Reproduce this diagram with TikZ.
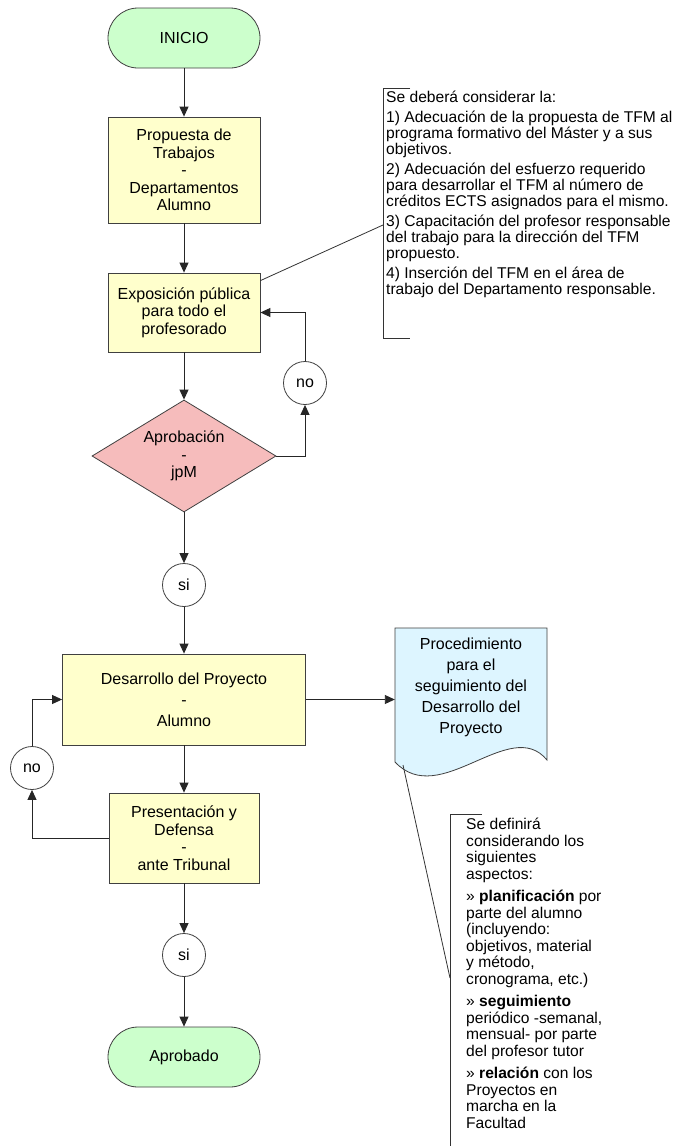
\documentclass[tikz,border=0pt]{standalone}
\usepackage{fontspec}
\setmainfont{Liberation Sans}
\usetikzlibrary{shapes.geometric,arrows.meta,calc}
\definecolor{termfill}{RGB}{204,255,204}
\definecolor{boxfill}{RGB}{255,255,204}
\definecolor{decfill}{RGB}{246,188,188}
\definecolor{docfill}{RGB}{221,245,255}
\definecolor{edgecol}{RGB}{64,64,64}
\newcommand{\boxfs}{\fontsize{16}{17.5}\selectfont}
\newcommand{\annfs}{\fontsize{15.6}{16}\selectfont}
\newcommand{\anntwofs}{\fontsize{15.6}{16.5}\selectfont}
\begin{document}
\begin{tikzpicture}[x=1pt,y=-1pt,
  term/.style={draw=edgecol, fill=termfill, line width=0.8pt, rounded corners=30pt, minimum width=152pt, minimum height=60pt, inner sep=0pt, font=\boxfs},
  proc/.style={draw=edgecol, fill=boxfill, line width=0.8pt, align=center, inner sep=0pt, font=\boxfs},
  decis/.style={diamond, draw=edgecol, fill=decfill, line width=0.8pt, aspect=1.64, inner sep=0pt, minimum width=184pt, minimum height=112pt, align=center, font=\boxfs},
  conn/.style={circle, draw=edgecol, fill=white, line width=0.8pt, minimum size=43pt, inner sep=0pt, font=\boxfs},
  arr/.style={draw=black!85, line width=0.9pt, -{Triangle[width=9pt,length=10pt]}},
  ln/.style={draw=black!80, line width=0.8pt},
  ann/.style={align=left, anchor=north west, inner sep=0pt}
]
\fill[white] (0,0) rectangle (677,1146);
\useasboundingbox (0,0) rectangle (677,1146);

% main flow
\node[term] (ini) at (184,38) {INICIO};
\node[proc, minimum width=152pt, minimum height=106pt] (prop) at (184,170) {Propuesta de\\Trabajos\\-\\Departamentos\\Alumno};
\node[proc, minimum width=152pt, minimum height=79pt] (expo) at (184,312.5) {Exposición pública\\para todo el\\profesorado};
\node[decis] (apr) at (184,456) {Aprobación\\-\\jpM};
\node[conn] (no1) at (305,383) {no};
\node[conn] (si1) at (184,585) {si};
\node[proc, minimum width=243pt, minimum height=91pt] (des) at (184,699.5) {Desarrollo del Proyecto\\[3.5pt]-\\[3.5pt]Alumno};
\node[proc, minimum width=150pt, minimum height=90pt] (pres) at (184,838) {Presentación y\\Defensa\\-\\ante Tribunal};
\node[conn] (no2) at (32,768) {no};
\node[conn] (si2) at (184,955) {si};
\node[term] (fin) at (184,1057) {Aprobado};

% document shape
\draw[draw=edgecol, fill=docfill, line width=0.8pt] (395,628) -- (547,628) -- (547,760) .. controls (510,715) and (440,810) .. (395,762) -- cycle;
\node[minimum width=152pt, minimum height=134pt, inner sep=0pt] (doc) at (471,695) {};
\node[align=center, inner sep=0pt, font=\boxfs] (doctxt) at (471,687) {Procedimiento\\[3.5pt]para el\\[3.5pt]seguimiento del\\[3.5pt]Desarrollo del\\[3.5pt]Proyecto};

% connectors
\draw[arr] (ini) -- (prop);
\draw[arr] (prop) -- (expo);
\draw[arr] (expo) -- (apr);
\draw[arr] (apr) -- (si1);
\draw[arr] (si1) -- (des);
\draw[arr] (des) -- (pres);
\draw[arr] (pres) -- (si2);
\draw[arr] (si2) -- (fin);
\draw[arr] (apr.east) -| (no1.south);
\draw[arr] (no1.north) |- (expo.east);
\draw[arr] (pres.west) -| (no2.south);
\draw[arr] (no2.north) |- (des.west);
\draw[arr] (des.east) -- (des.east -| doc.west);

% annotation 1
\draw[ln] (410,88) -- (383,88) -- (383,338) -- (410,338);
\coordinate (b1) at (383,225);
\draw[ln] ($(expo.north east)+(0,8)$) -- (b1);
\node[ann, font=\annfs] (ann1) at (386,91) {Se deberá considerar la:\\[4pt]
1) Adecuación de la propuesta de TFM al\\
programa formativo del Máster y a sus\\
objetivos.\\[4pt]
2) Adecuación del esfuerzo requerido\\
para desarrollar el TFM al número de\\
créditos ECTS asignados para el mismo.\\[4pt]
3) Capacitación del profesor responsable\\
del trabajo para la dirección del TFM\\
propuesto.\\[4pt]
4) Inserción del TFM en el área de\\
trabajo del Departamento responsable.};

% annotation 2
\draw[ln] (482,814) -- (450,814) -- (450,1146);
\coordinate (d1) at (403,765);
\coordinate (b2) at (450,978);
\draw[ln] (d1) -- (b2);
\node[ann, font=\anntwofs] (ann2) at (466,818) {Se definirá\\
considerando los\\
siguientes\\
aspectos:\\[6pt]
» \textbf{planificación} por\\
parte del alumno\\
(incluyendo:\\
objetivos, material\\
y método,\\
cronograma, etc.)\\[6pt]
» \textbf{seguimiento}\\
periódico -semanal,\\
mensual- por parte\\
del profesor tutor\\[6pt]
» \textbf{relación} con los\\
Proyectos en\\
marcha en la\\
Facultad};
\end{tikzpicture}
\end{document}
